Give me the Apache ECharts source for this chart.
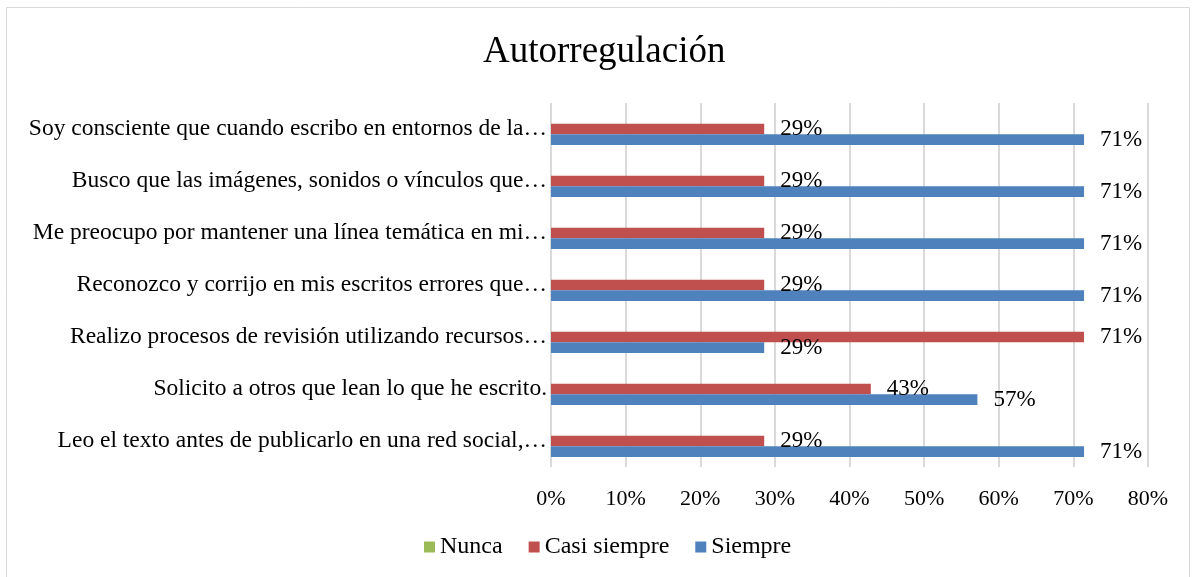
<!DOCTYPE html>
<html>
<head>
<meta charset="utf-8">
<script src="https://cdn.jsdelivr.net/npm/echarts@6/dist/echarts.min.js"></script>
<style>
  html, body { margin: 0; padding: 0; background: #fff; }
  #chart { width: 1195px; height: 577px; }
</style>
</head>
<body>
<div id="chart"></div>
<script>
// categorias, de arriba hacia abajo
const categories = [
  'Soy consciente que cuando escribo en entornos de la…',
  'Busco que las imágenes, sonidos o vínculos que…',
  'Me preocupo por mantener una línea temática en mi…',
  'Reconozco y corrijo en mis escritos errores que…',
  'Realizo procesos de revisión utilizando recursos…',
  'Solicito a otros que lean lo que he escrito.',
  'Leo el texto antes de publicarlo en una red social,…'
]

// porcentajes (7 respuestas)
const nunca = [0, 0, 0, 0, 0, 0, 0]
const casiSiempre = [28.57, 28.57, 28.57, 28.57, 71.43, 42.86, 28.57]
const siempre = [71.43, 71.43, 71.43, 71.43, 28.57, 57.14, 71.43]

const xTicks = { min: 0, max: 80, interval: 10 }

const font = 'Liberation Serif'

const labelCfg = {
  show: true,
  position: 'right',
  distance: 16,
  fontFamily: font,
  fontSize: 23,
  color: '#000',
  formatter: (p) => Math.round(p.value) + '%'
}

const chart = echarts.init(document.getElementById('chart'))

const option = {
  animation: false,
  title: {
    text: 'Autorregulación',
    left: 478,
    top: 29,
    textStyle: { fontFamily: font, fontSize: 37, fontWeight: 'normal', color: '#000' }
  },
  graphic: [
    {
      type: 'rect',
      shape: { x: 6.5, y: 7.5, width: 1183, height: 570 },
      style: { fill: 'none', stroke: '#d9d9d9', lineWidth: 1 },
      silent: true
    }
  ],
  legend: {
    bottom: 13,
    left: 419,
    itemWidth: 11,
    itemHeight: 11,
    itemGap: 26,
    icon: 'rect',
    textStyle: { fontFamily: font, fontSize: 24, color: '#000' },
    data: ['Nunca', 'Casi siempre', 'Siempre']
  },
  grid: {
    left: 551,
    right: 47,
    top: 103,
    bottom: 110
  },
  xAxis: {
    type: 'value',
    min: xTicks.min,
    max: xTicks.max,
    interval: xTicks.interval,
    axisLine: { show: false },
    axisTick: { show: false },
    axisLabel: {
      fontFamily: font,
      fontSize: 22,
      color: '#000',
      margin: 21,
      formatter: '{value}%'
    },
    splitLine: { lineStyle: { color: '#d9d9d9', width: 2 } }
  },
  yAxis: {
    type: 'category',
    inverse: true,
    data: categories,
    axisLine: { show: false },
    axisTick: { show: false },
    axisLabel: {
      fontFamily: font,
      fontSize: 23.5,
      color: '#000',
      margin: 4
    }
  },
  series: [
    {
      name: 'Nunca',
      type: 'bar',
      data: nunca,
      itemStyle: { color: '#9bbb59' },
      barGap: '0%',
      barCategoryGap: '38%'
    },
    {
      name: 'Casi siempre',
      type: 'bar',
      data: casiSiempre,
      itemStyle: { color: '#c0504d' },
      label: labelCfg
    },
    {
      name: 'Siempre',
      type: 'bar',
      data: siempre,
      itemStyle: { color: '#4f81bd' },
      label: labelCfg
    }
  ]
}

chart.setOption(option)
</script>
</body>
</html>
